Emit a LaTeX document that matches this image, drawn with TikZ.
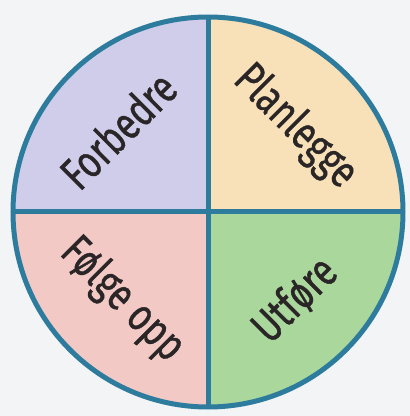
\documentclass[tikz,border=0pt]{standalone}
\usepackage{fontspec}
\setmainfont{Fira Sans}[FakeStretch=0.76,FakeBold=0.8]
\definecolor{bg}{HTML}{F3F4F6}
\definecolor{rim}{HTML}{2E7C9D}
\definecolor{lav}{HTML}{CFCDEA}
\definecolor{peach}{HTML}{F8E1B9}
\definecolor{pink}{HTML}{F2C9C5}
\definecolor{grn}{HTML}{A9D79C}
\definecolor{ink}{HTML}{2A2526}
\begin{document}
\begin{tikzpicture}[x=1pt,y=1pt,
  lbl/.style={text=ink,font=\fontsize{46}{46}\selectfont,inner sep=0pt}]
\fill[bg] (0,0) rectangle (410,416);
\useasboundingbox (0,0) rectangle (410,416);
\coordinate (c) at (208,204);
\fill[lav] (c) -- ++(-195,0) arc (180:90:195) -- cycle;
\fill[peach] (c) -- ++(0,195) arc (90:0:195) -- cycle;
\fill[grn] (c) -- ++(195,0) arc (0:-90:195) -- cycle;
\fill[pink] (c) -- ++(0,-195) arc (270:180:195) -- cycle;
\coordinate (t) at (208,399);
\coordinate (b) at (208,9);
\coordinate (l) at (13,204);
\coordinate (r) at (403,204);
\draw[rim,line width=5pt] (t) -- (b);
\draw[rim,line width=5pt] (l) -- (r);
\draw[rim,line width=5pt] (c) circle (195);
\node[lbl,rotate=45] (f) at (118,286) {Forbedre};
\node[lbl,rotate=-45] (p) at (295,289) {Planlegge};
\node[lbl,rotate=-45] (fo) at (122,116) {Følge opp};
\node[lbl,rotate=45] (u) at (295,116) {Utføre};
\end{tikzpicture}
\end{document}
